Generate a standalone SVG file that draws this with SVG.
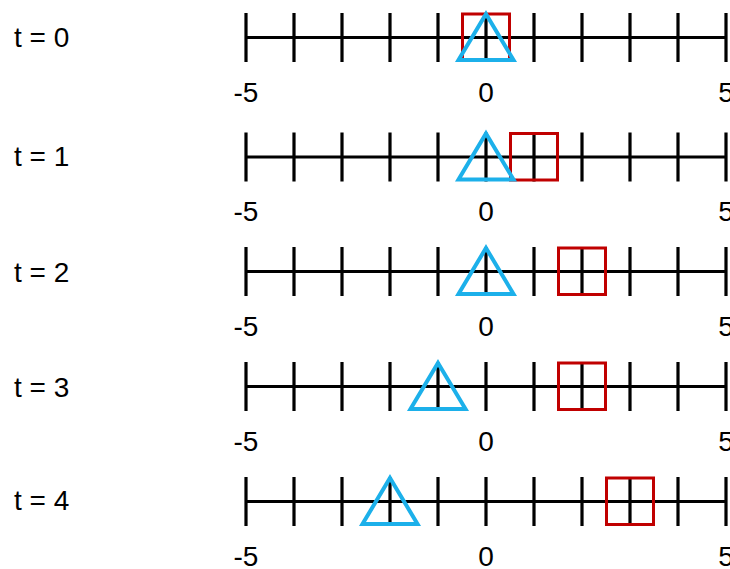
<svg xmlns="http://www.w3.org/2000/svg" xmlns:xlink="http://www.w3.org/1999/xlink" width="730" height="569" viewBox="0 0 730 569">
<style>
  text { font-family: "Liberation Sans", Arial, sans-serif; font-size: 28px; fill: #000; }
  .num { text-anchor: middle; }
  .axis { stroke: #000; stroke-width: 3.2; fill: none; }
  .sq { stroke: #c00000; stroke-width: 3; fill: none; }
  .tri { stroke: #1cb0ea; stroke-width: 4; fill: none; stroke-linejoin: miter; }
</style>
<defs>
  <g id="line">
    <path class="axis" d="M246 0H726 M246 -24.5V24.5 M294 -24.5V24.5 M342 -24.5V24.5 M390 -24.5V24.5 M438 -24.5V24.5 M486 -24.5V24.5 M534 -24.5V24.5 M582 -24.5V24.5 M630 -24.5V24.5 M678 -24.5V24.5 M726 -24.5V24.5"/>
    <text class="num" x="246" y="64">-5</text>
    <text class="num" x="486" y="64">0</text>
    <text class="num" x="726" y="64">5</text>
  </g>
  <rect id="square" class="sq" x="-23.5" y="-23.5" width="47" height="46.5"/>
  <path id="triangle" class="tri" d="M0 -23.5L27.5 22.5L-27.5 22.5Z"/>
</defs>
<g id="row0">
  <text x="14" y="47">t = 0</text>
  <use xlink:href="#line" transform="translate(0,37.5)"/>
  <use xlink:href="#square" transform="translate(486,37.5)"/>
  <use xlink:href="#triangle" transform="translate(486,37.5)"/>
</g>
<g id="row1">
  <text x="14" y="166">t = 1</text>
  <use xlink:href="#line" transform="translate(0,157)"/>
  <use xlink:href="#square" transform="translate(534,157)"/>
  <use xlink:href="#triangle" transform="translate(486,157)"/>
</g>
<g id="row2">
  <text x="14" y="281.5">t = 2</text>
  <use xlink:href="#line" transform="translate(0,271.5)"/>
  <use xlink:href="#square" transform="translate(582,271.5)"/>
  <use xlink:href="#triangle" transform="translate(486,271.5)"/>
</g>
<g id="row3">
  <text x="14" y="396.5">t = 3</text>
  <use xlink:href="#line" transform="translate(0,386.5)"/>
  <use xlink:href="#square" transform="translate(582,386.5)"/>
  <use xlink:href="#triangle" transform="translate(438,386.5)"/>
</g>
<g id="row4">
  <text x="14" y="510">t = 4</text>
  <use xlink:href="#line" transform="translate(0,501.5)"/>
  <use xlink:href="#square" transform="translate(630,501.5)"/>
  <use xlink:href="#triangle" transform="translate(390,501.5)"/>
</g>
</svg>
